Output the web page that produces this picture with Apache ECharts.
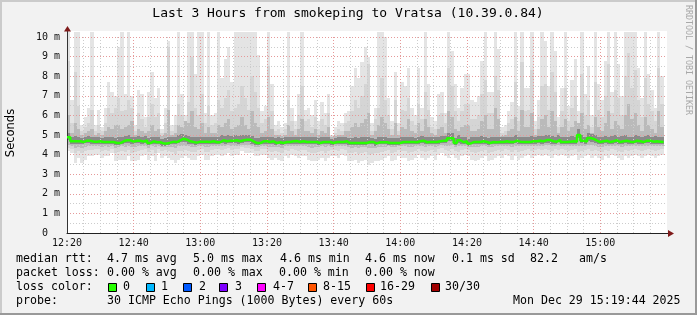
<!DOCTYPE html>
<html><head><meta charset="utf-8">
<script src="https://cdn.jsdelivr.net/npm/echarts@6/dist/echarts.min.js"></script>
<style>html,body{margin:0;padding:0;background:#f2f2f2}#c{width:697px;height:315px}</style>
</head><body><div id="c"></div>
<script>
// minutes after 12:20, one column per minute (60 s step)
const startMinute = 12 * 60 + 20;
const xTickLabels = ['12:20','12:40','13:00','13:20','13:40','14:00','14:20','14:40','15:00'];
const yTickLabels = ['0  ','1 m','2 m','3 m','4 m','5 m','6 m','7 m','8 m','9 m','10 m'];

// median rtt (ms), loss 0 everywhere
const median = [
4.88,4.68,4.68,4.68,4.64,4.71,4.71,4.66,4.66,4.68,
4.64,4.64,4.64,4.64,4.59,4.59,4.68,4.73,4.73,4.66,
4.71,4.71,4.66,4.73,4.59,4.68,4.63,4.63,4.57,4.57,
4.61,4.66,4.64,4.73,4.81,4.76,4.68,4.64,4.61,4.66,
4.66,4.66,4.64,4.68,4.63,4.63,4.73,4.68,4.71,4.71,
4.73,4.68,4.73,4.76,4.76,4.68,4.59,4.59,4.68,4.68,
4.64,4.68,4.59,4.63,4.59,4.64,4.64,4.68,4.69,4.64,
4.68,4.64,4.64,4.64,4.64,4.59,4.64,4.64,4.64,4.59,
4.64,4.64,4.64,4.68,4.59,4.59,4.59,4.59,4.59,4.59,
4.64,4.64,4.57,4.63,4.63,4.63,4.59,4.59,4.59,4.59,
4.64,4.64,4.64,4.64,4.63,4.68,4.71,4.63,4.64,4.64,
4.64,4.68,4.71,4.71,4.83,4.83,4.59,4.73,4.63,4.68,
4.56,4.64,4.64,4.64,4.68,4.64,4.59,4.64,4.63,4.64,
4.64,4.68,4.64,4.64,4.71,4.66,4.64,4.64,4.64,4.68,
4.68,4.71,4.68,4.74,4.74,4.68,4.66,4.76,4.64,4.64,
4.66,4.68,4.66,5.0,4.71,4.66,4.85,4.8,4.71,4.64,
4.68,4.71,4.64,4.68,4.73,4.64,4.68,4.71,4.66,4.64,
4.71,4.68,4.64,4.71,4.71,4.66,4.68,4.66,4.64];

// smoke: outermost pings (max / min)
const smokeHi1 = [
10.25,6.8,10.25,10.25,5.5,5.9,6.4,10.25,5.5,6.3,
5.4,6.4,7.7,7.2,7.0,9.5,10.25,7.1,10.25,7.0,
5.5,7.3,7.1,5.9,7.2,8.2,6.9,7.4,5.3,6.4,
9.8,5.5,6.0,10.25,7.1,6.0,10.25,10.25,8.1,10.25,
10.25,6.1,10.25,6.0,6.1,10.25,7.9,8.9,9.5,7.7,
10.25,10.25,10.25,10.25,10.25,10.25,10.25,9.1,6.2,6.5,
10.25,7.6,5.5,5.7,5.4,5.6,10.25,6.4,5.7,7.1,
10.25,6.3,6.4,6.0,6.8,5.7,6.7,6.1,7.1,5.0,
5.4,5.7,5.6,6.1,6.2,7.5,8.4,7.9,8.7,9.5,
9.0,5.6,6.4,10.25,10.25,10.0,6.9,5.7,8.2,5.6,
7.7,7.5,8.4,6.4,6.0,8.4,6.4,10.25,7.6,5.9,
5.7,7.1,7.2,6.1,10.25,9.3,7.6,6.4,7.4,8.1,
8.1,6.8,6.7,7.0,8.8,10.25,7.2,7.2,10.25,9.4,
5.4,5.5,6.2,6.7,10.25,6.5,10.25,7.4,7.4,10.25,
5.7,6.8,10.25,9.8,7.5,10.25,9.3,5.9,7.4,10.25,
6.5,7.8,8.9,6.2,10.25,7.1,8.5,6.0,10.25,7.6,
6.8,8.8,10.25,7.2,10.25,8.6,7.0,10.25,10.25,10.25,
10.25,8.4,6.9,10.25,8.1,7.3,6.4,10.25,8.0];
const smokeLo1 = [
4.17,4.08,3.57,3.83,3.57,3.74,3.91,3.91,4.0,4.0,
3.83,3.91,3.91,4.08,3.66,3.74,3.74,3.74,3.91,3.66,
3.66,3.74,3.91,4.0,3.74,3.91,3.66,4.08,3.83,3.91,
3.83,3.74,3.57,3.74,3.83,3.91,3.83,3.74,3.74,3.91,
4.0,3.74,3.74,3.91,4.0,4.0,3.91,4.0,4.08,3.91,
4.0,4.0,4.17,4.08,4.08,4.08,3.91,3.91,4.0,4.0,
3.83,3.74,3.83,3.74,3.66,3.91,3.83,4.0,3.91,3.83,
3.91,3.91,3.74,3.66,3.66,3.74,3.83,3.66,3.83,3.91,
3.91,3.83,4.0,3.91,3.66,3.66,3.74,3.57,3.66,3.74,
3.49,3.57,3.66,3.66,3.74,3.83,3.91,3.66,3.74,3.91,
3.83,3.83,3.66,3.74,3.83,4.0,3.83,3.74,3.83,3.91,
3.74,4.0,4.08,3.91,3.83,4.0,3.83,3.74,3.91,4.0,
3.91,3.74,3.66,3.74,3.83,3.91,3.66,3.74,3.83,3.91,
3.83,4.0,3.91,3.74,3.91,3.74,3.83,3.91,4.0,3.83,
3.91,4.0,3.91,4.0,3.91,3.83,4.0,3.91,4.0,3.91,
3.83,3.91,4.0,3.74,3.83,3.91,4.0,3.83,3.91,3.83,
3.74,3.91,3.83,4.0,3.91,3.83,3.74,3.91,3.83,3.91,
4.0,3.91,3.83,3.91,4.0,3.91,3.83,3.91,4.0];

// smoke: second layer
const smokeHi2 = [
8.8,5.6,8.2,6.5,5.2,5.4,5.6,6.3,5.2,5.5,
5.2,5.6,6.4,6.1,6.4,6.9,6.2,6.3,6.8,6.4,
5.2,6.1,5.8,5.4,5.9,6.6,5.9,6.1,5.1,5.6,
9.5,5.2,5.5,6.6,6.0,5.6,6.7,9.0,6.4,6.0,
7.1,5.6,6.5,5.5,5.6,6.8,6.4,6.9,7.3,6.2,
6.4,6.6,7.5,6.9,6.3,8.0,7.2,6.4,5.6,5.8,
8.5,6.2,5.2,5.3,5.1,5.3,6.8,5.7,5.3,6.0,
7.5,5.7,5.8,5.4,5.9,5.3,5.8,5.5,6.1,4.95,
5.1,5.3,5.2,5.6,5.7,6.2,6.8,6.4,7.0,7.6,
8.6,5.2,5.8,6.4,7.9,6.8,6.0,5.3,6.8,5.2,
6.3,6.2,6.9,5.7,5.5,6.6,5.8,7.2,6.3,5.4,
5.3,6.0,6.1,5.6,8.4,7.5,6.2,5.7,6.2,6.6,
6.6,5.8,5.8,6.0,7.1,7.8,6.1,6.1,8.0,7.3,
5.1,5.2,5.6,5.8,7.7,5.7,8.7,6.2,6.3,8.3,
5.3,5.9,7.5,7.6,6.3,8.2,7.2,5.4,6.2,7.4,
5.7,6.4,7.0,5.6,8.1,6.0,6.8,5.4,7.7,6.3,
5.9,7.0,8.6,6.1,7.3,6.9,6.0,8.0,9.2,7.4,
8.3,6.8,5.9,7.9,6.6,6.2,5.7,8.4,6.6];
const smokeLo2 = [
4.35,4.3,4.1,4.2,4.1,4.2,4.25,4.25,4.3,4.3,
4.2,4.25,4.2,4.3,4.1,4.15,4.2,4.15,4.25,4.1,
4.15,4.2,4.25,4.3,4.15,4.25,4.1,4.3,4.2,4.25,
4.2,4.15,4.05,4.2,4.2,4.25,4.2,4.15,4.15,4.25,
4.3,4.15,4.15,4.25,4.3,4.3,4.25,4.3,4.35,4.25,
4.3,4.3,4.4,4.35,4.35,4.3,4.2,4.2,4.3,4.3,
4.2,4.15,4.2,4.15,4.1,4.25,4.2,4.3,4.25,4.2,
4.25,4.25,4.15,4.1,4.1,4.15,4.2,4.1,4.2,4.25,
4.25,4.2,4.3,4.25,4.1,4.1,4.15,4.05,4.1,4.15,
4.0,4.05,4.1,4.1,4.15,4.2,4.25,4.1,4.15,4.25,
4.2,4.2,4.1,4.15,4.2,4.3,4.2,4.15,4.2,4.25,
4.15,4.3,4.35,4.25,4.2,4.3,4.2,4.15,4.25,4.3,
4.25,4.15,4.1,4.15,4.2,4.25,4.1,4.15,4.2,4.25,
4.2,4.3,4.25,4.15,4.25,4.15,4.2,4.25,4.3,4.2,
4.25,4.3,4.25,4.3,4.25,4.2,4.3,4.25,4.3,4.25,
4.2,4.25,4.3,4.15,4.2,4.25,4.3,4.2,4.25,4.2,
4.15,4.25,4.2,4.3,4.25,4.2,4.15,4.25,4.2,4.25,
4.3,4.25,4.2,4.25,4.3,4.25,4.2,4.25,4.3];

// smoke: third layer
const smokeHi3 = [
6.0,5.1,5.6,5.3,5.0,5.1,5.2,5.3,5.0,5.1,
5.0,5.2,5.4,5.3,5.5,5.5,5.3,5.4,5.5,5.7,
5.0,5.3,5.2,5.1,5.2,5.5,5.2,5.3,4.95,5.1,
6.3,5.0,5.1,5.5,5.4,5.7,5.6,6.2,5.4,5.3,
5.6,5.1,5.4,5.1,5.1,5.5,5.4,5.6,5.8,5.3,
5.4,5.5,5.9,5.5,5.3,6.2,5.6,5.4,5.1,5.2,
5.9,5.3,5.0,5.0,4.95,5.0,5.5,5.2,5.0,5.3,
5.8,5.2,5.2,5.1,5.3,5.0,5.2,5.1,5.4,4.9,
4.95,5.0,5.0,5.2,5.2,5.4,5.6,5.4,5.6,5.8,
6.1,5.0,5.2,5.5,5.9,5.6,5.3,5.0,5.6,5.0,
5.4,5.3,5.8,5.2,5.1,5.6,5.2,5.8,5.4,5.1,
5.0,5.3,5.4,5.1,6.2,5.9,5.3,5.2,5.4,5.5,
5.5,5.2,5.2,5.3,5.7,6.0,5.3,5.3,6.4,5.8,
4.95,5.0,5.2,5.3,5.9,5.2,6.3,5.4,5.4,6.1,
5.0,5.3,5.8,6.0,5.4,6.2,5.7,5.1,5.4,5.8,
5.2,5.4,5.7,5.6,6.1,5.3,5.5,5.1,5.9,5.4,
5.2,5.6,6.2,5.3,5.7,5.5,5.3,6.0,6.6,5.8,
6.1,5.5,5.2,5.9,5.5,5.3,5.1,6.2,5.4];
const smokeLo3 = [
4.5,4.45,4.35,4.4,4.35,4.4,4.45,4.42,4.45,4.45,
4.4,4.42,4.4,4.45,4.35,4.38,4.42,4.4,4.45,4.38,
4.4,4.42,4.42,4.45,4.35,4.42,4.38,4.45,4.38,4.4,
4.4,4.38,4.35,4.42,4.45,4.45,4.42,4.4,4.38,4.42,
4.45,4.4,4.4,4.42,4.45,4.42,4.45,4.45,4.48,4.45,
4.45,4.45,4.5,4.48,4.48,4.45,4.4,4.38,4.45,4.45,
4.4,4.4,4.38,4.4,4.35,4.42,4.42,4.45,4.45,4.42,
4.45,4.42,4.38,4.35,4.38,4.38,4.42,4.38,4.42,4.4,
4.42,4.42,4.45,4.42,4.38,4.35,4.38,4.35,4.38,4.38,
4.32,4.35,4.35,4.38,4.4,4.4,4.42,4.38,4.38,4.42,
4.42,4.42,4.38,4.4,4.42,4.45,4.45,4.4,4.42,4.42,
4.4,4.45,4.48,4.45,4.45,4.48,4.4,4.42,4.42,4.45,
4.4,4.4,4.38,4.4,4.42,4.42,4.38,4.4,4.42,4.42,
4.42,4.45,4.42,4.4,4.45,4.42,4.42,4.42,4.45,4.42,
4.45,4.45,4.45,4.48,4.48,4.42,4.45,4.48,4.42,4.42,
4.42,4.42,4.45,4.45,4.42,4.42,4.5,4.48,4.42,4.4,
4.4,4.42,4.42,4.45,4.45,4.42,4.4,4.45,4.42,4.42,
4.45,4.45,4.42,4.45,4.45,4.42,4.42,4.42,4.42];

// smoke: dark core around the median
const smokeHi4 = [
5.1,4.9,4.95,4.9,4.85,4.92,4.95,4.9,4.88,4.9,
4.86,4.88,4.9,4.9,4.85,4.88,4.92,4.95,4.98,4.92,
4.92,4.95,4.9,4.95,4.85,4.92,4.88,4.88,4.82,4.84,
4.9,4.9,4.88,4.98,5.05,5.0,4.95,4.9,4.88,4.92,
4.92,4.9,4.9,4.92,4.88,4.9,4.98,4.95,4.98,4.95,
4.98,4.95,5.0,5.0,5.0,4.95,4.86,4.85,4.92,4.92,
4.9,4.92,4.85,4.88,4.84,4.88,4.9,4.92,4.92,4.9,
4.92,4.88,4.88,4.88,4.9,4.84,4.88,4.88,4.9,4.82,
4.86,4.88,4.88,4.92,4.85,4.86,4.88,4.86,4.88,4.9,
4.92,4.86,4.82,4.88,4.9,4.9,4.85,4.84,4.86,4.84,
4.9,4.9,4.92,4.88,4.86,4.92,4.95,4.9,4.9,4.88,
4.88,4.92,4.95,4.95,5.1,5.08,4.86,4.98,4.88,4.92,
4.82,4.88,4.88,4.9,4.95,4.92,4.85,4.9,4.9,4.92,
4.88,4.92,4.9,4.9,4.98,4.9,4.92,4.9,4.9,4.95,
4.9,4.95,4.95,5.0,5.0,4.95,4.92,5.0,4.9,4.92,
4.9,4.95,4.92,5.3,4.98,4.92,5.1,5.05,4.98,4.9,
4.92,4.95,4.92,4.95,5.0,4.9,4.94,4.98,4.92,4.9,
4.98,4.94,4.9,4.96,4.98,4.92,4.94,4.92,4.9];
const smokeLo4 = [
4.72,4.56,4.55,4.55,4.52,4.58,4.58,4.55,4.55,4.56,
4.52,4.52,4.52,4.52,4.48,4.48,4.56,4.6,4.6,4.55,
4.58,4.58,4.55,4.6,4.48,4.56,4.52,4.52,4.46,4.46,
4.5,4.55,4.52,4.6,4.66,4.62,4.56,4.52,4.5,4.55,
4.55,4.55,4.52,4.56,4.52,4.52,4.6,4.56,4.58,4.58,
4.6,4.56,4.6,4.62,4.62,4.56,4.48,4.48,4.56,4.56,
4.52,4.56,4.48,4.52,4.48,4.52,4.52,4.56,4.56,4.52,
4.56,4.52,4.52,4.52,4.52,4.48,4.52,4.52,4.52,4.48,
4.52,4.52,4.52,4.56,4.48,4.48,4.48,4.48,4.48,4.48,
4.52,4.52,4.46,4.52,4.52,4.52,4.48,4.48,4.48,4.48,
4.52,4.52,4.52,4.52,4.52,4.56,4.58,4.52,4.52,4.52,
4.52,4.56,4.58,4.58,4.68,4.68,4.48,4.6,4.52,4.56,
4.46,4.52,4.52,4.52,4.56,4.52,4.48,4.52,4.52,4.52,
4.52,4.56,4.52,4.52,4.58,4.55,4.52,4.52,4.52,4.56,
4.56,4.58,4.56,4.6,4.6,4.56,4.55,4.62,4.52,4.52,
4.55,4.56,4.55,4.85,4.58,4.55,4.7,4.66,4.58,4.52,
4.56,4.58,4.52,4.56,4.6,4.52,4.56,4.58,4.55,4.52,
4.58,4.56,4.52,4.58,4.58,4.55,4.56,4.55,4.52];

const lossLabels = ['0','1','2','3','4-7','8-15','16-29','30/30'];
const lossColors = ['#26ff00','#00b8ff','#0059ff','#7e00ff','#ff00ff','#ff5500','#ff0000','#a00000'];

const legendRows = [
  [['median rtt:',16],['4.7 ms avg',107],['5.0 ms max',193],['4.6 ms min',280],['4.6 ms now',365],['0.1 ms sd',452],['82.2',530],['am/s',579]],
  [['packet loss:',16],['0.00 % avg',107],['0.00 % max',193],['0.00 % min',279],['0.00 % now',365]],
  [['loss color:',16]],
  [['probe:',16],['30 ICMP Echo Pings (1000 Bytes) every 60s',107],['Mon Dec 29 15:19:44 2025',513]]
];
const legendRowY = [259, 273, 287, 301];
const lossBoxX = [108,146,183,219,257,308,366,431];
const lossTextX = [123,161,199,235,273,323,380,445];

const MONO = '"DejaVu Sans Mono", "Liberation Mono", monospace';

function smokeLayer(lo, hi, color, z) {
  return {
    type: 'custom', z: z, silent: true, clip: false,
    data: lo.map((v, i) => [i, v, hi[i]]),
    encode: { x: 0, y: [1, 2] },
    renderItem: (params, api) => {
      const k = api.value(0);
      const a = api.coord([k, api.value(1)]);
      const b = api.coord([k + 1, api.value(2)]);
      const x0 = Math.round(a[0]), x1 = Math.round(b[0]);
      const y0 = Math.round(a[1]), y1 = Math.round(b[1]);
      return { type: 'rect', shape: { x: x0, y: y1, width: x1 - x0, height: y0 - y1 }, style: { fill: color } };
    }
  };
}

const medianData = median.map((v, i) => [i, v]);
medianData.push([median.length, median[median.length - 1]]);

const graphics = [];
graphics.push({ type: 'rect', z: 1, shape: { x: 67, y: 31, width: 600, height: 6 }, style: { fill: '#ffffff' }, silent: true });
graphics.push({ type: 'rect', z: 20, shape: { x: 0, y: 0, width: 697, height: 2 }, style: { fill: '#cbcbcb' } });
graphics.push({ type: 'rect', z: 20, shape: { x: 0, y: 0, width: 2, height: 315 }, style: { fill: '#cbcbcb' } });
graphics.push({ type: 'rect', z: 20, shape: { x: 695, y: 0, width: 2, height: 315 }, style: { fill: '#999999' } });
graphics.push({ type: 'rect', z: 20, shape: { x: 0, y: 313, width: 697, height: 2 }, style: { fill: '#999999' } });
graphics.push({ type: 'line', z: 20, shape: { x1: 67.5, y1: 37, x2: 67.5, y2: 30 }, style: { stroke: '#333', lineWidth: 1 } });
graphics.push({ type: 'line', z: 20, shape: { x1: 667, y1: 233.5, x2: 669, y2: 233.5 }, style: { stroke: '#222', lineWidth: 1 } });
graphics.push({ type: 'polygon', z: 20, shape: { points: [[64, 31.5], [67.5, 26], [71, 31.5]] }, style: { fill: '#7f1a1a' } });
graphics.push({ type: 'polygon', z: 20, shape: { points: [[668, 230], [674, 233.5], [668, 237]] }, style: { fill: '#7f1a1a' } });
graphics.push({ type: 'text', z: 20, x: 348, y: 14, style: { text: 'Last 3 Hours from smokeping to Vratsa (10.39.0.84)', font: '13px ' + MONO, fill: '#000', align: 'center', verticalAlign: 'middle', textAlign: 'center', textVerticalAlign: 'middle' } });
graphics.push({ type: 'text', z: 20, x: 11, y: 133, rotation: Math.PI / 2, style: { text: 'Seconds', font: '11.5px "DejaVu Sans", sans-serif', fill: '#000', align: 'center', verticalAlign: 'middle', textAlign: 'center', textVerticalAlign: 'middle' } });
graphics.push({ type: 'text', z: 20, x: 688, y: 60, rotation: -Math.PI / 2, style: { text: 'RRDTOOL / TOBI OETIKER', font: '8.3px ' + MONO, fill: '#a8a8a8', align: 'center', verticalAlign: 'middle', textAlign: 'center', textVerticalAlign: 'middle' } });
legendRows.forEach((row, r) => {
  row.forEach(([t, x]) => {
    graphics.push({ type: 'text', z: 20, x: x, y: legendRowY[r], style: { text: t, font: '11.6px ' + MONO, fill: '#000', align: 'left', verticalAlign: 'middle', textAlign: 'left', textVerticalAlign: 'middle' } });
  });
});
lossLabels.forEach((lab, i) => {
  graphics.push({ type: 'rect', z: 20, shape: { x: lossBoxX[i] + 0.5, y: 283.5, width: 8, height: 8 }, style: { fill: lossColors[i], stroke: '#000', lineWidth: 1 } });
  graphics.push({ type: 'text', z: 20, x: lossTextX[i], y: legendRowY[2], style: { text: lab, font: '11.6px ' + MONO, fill: '#000', align: 'left', verticalAlign: 'middle', textAlign: 'left', textVerticalAlign: 'middle' } });
});

const chart = echarts.init(document.getElementById('c'), null, { renderer: 'canvas' });
chart.setOption({
  animation: false,
  backgroundColor: '#f2f2f2',
  grid: { left: 67, right: 30, top: 37, bottom: 82, show: true, backgroundColor: '#ffffff', borderWidth: 0, containLabel: false },
  xAxis: {
    type: 'value', min: 0, max: 180, interval: 20, z: 3,
    axisLine: { show: true, onZero: false, lineStyle: { color: '#222', width: 1 } },
    axisTick: { show: false },
    axisLabel: { show: true, margin: 5, color: '#111', fontFamily: MONO, fontSize: 10, showMaxLabel: false, showMinLabel: true,
      formatter: v => { const i = Math.round(v / 20); return (i >= 0 && i < xTickLabels.length) ? xTickLabels[i] : ''; } },
    splitLine: { show: true, showMinLine: false, showMaxLine: false, lineStyle: { color: '#e59999', width: 1, type: [1, 2] } },
    minorTick: { show: false, splitNumber: 4 },
    minorSplitLine: { show: true, lineStyle: { color: '#cccccc', width: 1, type: [1, 2] } }
  },
  yAxis: {
    type: 'value', min: 0, max: 10, interval: 1, z: 3,
    axisLine: { show: true, onZero: false, lineStyle: { color: '#333', width: 1 } },
    axisTick: { show: false },
    axisLabel: { show: true, margin: 7, color: '#111', fontFamily: MONO, fontSize: 10,
      formatter: v => { const i = Math.round(v); return yTickLabels[i] || ''; } },
    splitLine: { show: true, showMinLine: false, showMaxLine: true, lineStyle: { color: '#e59999', width: 1, type: [1, 2] } },
    minorTick: { show: false, splitNumber: 2 },
    minorSplitLine: { show: true, lineStyle: { color: '#cccccc', width: 1, type: [1, 2] } }
  },
  series: [
    smokeLayer(smokeLo1, smokeHi1, '#e4e4e4', 2),
    smokeLayer(smokeLo2, smokeHi2, '#d5d5d5', 2),
    smokeLayer(smokeLo3, smokeHi3, '#bababa', 2),
    smokeLayer(smokeLo4, smokeHi4, '#8a8a8a', 2),
    {
      type: 'line', z: 5, data: medianData, step: 'end', showSymbol: false, symbol: 'none', silent: true,
      lineStyle: { color: '#26ff00', width: 2.5 }
    }
  ],
  graphic: { elements: graphics }
});
</script>
</body></html>
